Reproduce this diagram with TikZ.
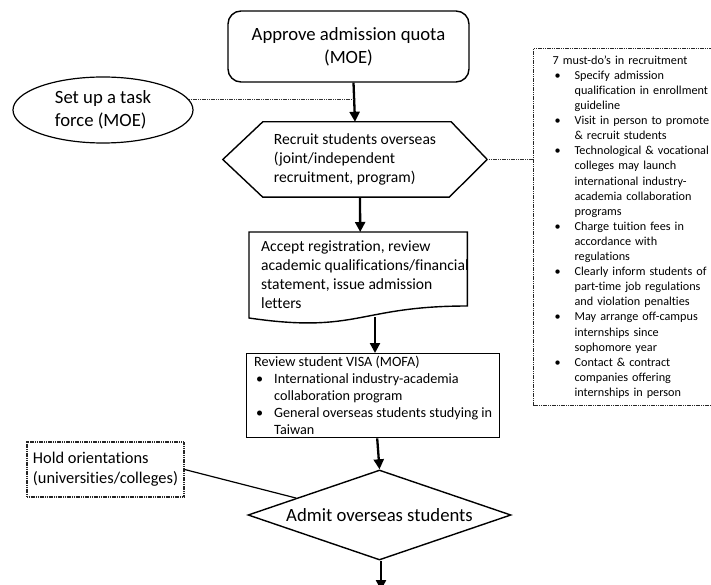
\documentclass[tikz,border=0pt]{standalone}
\usepackage{fontspec}
\setmainfont{Carlito}[Ligatures=NoCommon]
\usetikzlibrary{shapes.geometric,arrows.meta,calc}

\begin{document}
\begin{tikzpicture}[x=1pt,y=-1pt,
  box/.style={draw=black,line width=1.4pt},
  dotbox/.style={draw=black!85,line width=1.2pt,dash pattern=on 1.2pt off 0.6pt},
  flow/.style={line width=2.3pt,-{Triangle[length=10pt,width=10pt]}},
  dotline/.style={draw=black!80,line width=1.1pt,dash pattern=on 1.2pt off 0.6pt},
  bigfont/.style={font=\fontsize{18.7}{22.8}\selectfont},
  midfont/.style={font=\fontsize{15.6}{19}\selectfont},
  visafont/.style={font=\fontsize{14.2}{17}\selectfont},
  holdfont/.style={font=\fontsize{16.4}{20}\selectfont},
  smallfont/.style={font=\fontsize{12.2}{15.1}\selectfont}]
\clip (0,0) rectangle (711,585);

% top rounded box
\node[box,rounded corners=13pt,minimum width=241pt,minimum height=71pt,
  align=center,bigfont] (quota) at (348.5,46.5) {Approve admission quota\\(MOE)};

% ellipse
\node[box,line width=1.2pt,ellipse,minimum width=180pt,minimum height=66pt,inner sep=0pt,
  align=left,bigfont] (task) at (103,110) {Set up a task\\force (MOE)};

% hexagon
\node[minimum width=264pt,minimum height=75pt,inner sep=0pt,align=left,midfont]
  (recruit) at (355,159.5) {Recruit students overseas\\(joint/independent\\recruitment, program)};
\draw[box] (recruit.west) -- ($(recruit.north west)+(40,0)$) -- ($(recruit.north east)+(-36,0)$)
  -- (recruit.east) -- ($(recruit.south east)+(-38,0)$) -- ($(recruit.south west)+(40,0)$) -- cycle;

% document shape
\node[minimum width=218pt,minimum height=92pt,inner sep=0pt,anchor=north west] (accept) at (249,232) {};
\draw[box] (accept.north west) -- (accept.north east) -- ($(accept.north east)+(0,74)$)
  .. controls ($(accept.north)+(0,74)$) and ($(accept.north)+(0,102)$) .. ($(accept.north west)+(0,86)$) -- cycle;
\node[inner sep=0pt,align=left,midfont,anchor=north west] (accepttext) at (261,241)
  {Accept registration, review\\academic qualifications/financial\\statement, issue admission\\letters};
\coordinate (acceptbottom) at (375,317);

% visa box
\node[box,anchor=north west,minimum width=253pt,minimum height=84pt,inner xsep=7pt,inner ysep=1pt,
  align=left,visafont] (visa) at (246,353)
  {Review student VISA (MOFA)\\
   \makebox[20pt][l]{\hspace*{2pt}•}International industry-academia\\
   \hspace*{20pt}collaboration program\\
   \makebox[20pt][l]{\hspace*{2pt}•}General overseas students studying in\\
   \hspace*{20pt}Taiwan};

% diamond
\node[box,diamond,aspect=2.92,minimum width=263pt,minimum height=90pt,inner sep=0pt,bigfont]
  (admit) at (379.5,515) {Admit overseas students};

% hold orientations
\node[dotbox,minimum width=157pt,minimum height=55pt,inner xsep=6pt,align=left,holdfont]
  (hold) at (105.5,469.5) {Hold orientations\\(universities/colleges)};

% right box
\node[dotbox,anchor=north west,minimum height=356pt,text width=175pt,inner xsep=19pt,inner ysep=7pt,
  align=left,smallfont] (mustdo) at (533,48)
  {7 must-do’s in recruitment\\
   \makebox[22pt][l]{\hspace*{2pt}•}Specify admission\\
   \hspace*{22pt}qualification in enrollment\\
   \hspace*{22pt}guideline\\
   \makebox[22pt][l]{\hspace*{2pt}•}Visit in person to promote\\
   \hspace*{22pt}\& recruit students\\
   \makebox[22pt][l]{\hspace*{2pt}•}Technological \& vocational\\
   \hspace*{22pt}colleges may launch\\
   \hspace*{22pt}international industry-\\
   \hspace*{22pt}academia collaboration\\
   \hspace*{22pt}programs\\
   \makebox[22pt][l]{\hspace*{2pt}•}Charge tuition fees in\\
   \hspace*{22pt}accordance with\\
   \hspace*{22pt}regulations\\
   \makebox[22pt][l]{\hspace*{2pt}•}Clearly inform students of\\
   \hspace*{22pt}part-time job regulations\\
   \hspace*{22pt}and violation penalties\\
   \makebox[22pt][l]{\hspace*{2pt}•}May arrange off-campus\\
   \hspace*{22pt}internships since\\
   \hspace*{22pt}sophomore year\\
   \makebox[22pt][l]{\hspace*{2pt}•}Contact \& contract\\
   \hspace*{22pt}companies offering\\
   \hspace*{22pt}internships in person};

% connectors
\coordinate (join) at (354,0);
\draw[flow] ($(quota.south)+(5,0)$) -- (recruit.north);
\draw[dotline] (task.7) -- (task.7 -| join);
\draw[dotline] (recruit.east) -- (recruit.east -| mustdo.west);
\draw[flow] ($(recruit.south)+(5,0)$) -- ($(accept.north)+(2,0)$);
\draw[flow] (acceptbottom) -- (acceptbottom |- visa.north);
\draw[flow] ($(visa.south)+(4,0)$) -- (admit.north);
\draw[line width=1.2pt] (hold.east) -- ($(admit.west)!0.37!(admit.north)$);
\coordinate (out) at (381,590);
\draw[flow] ($(admit.south)+(1.5,0)$) -- (out);
\end{tikzpicture}
\end{document}
